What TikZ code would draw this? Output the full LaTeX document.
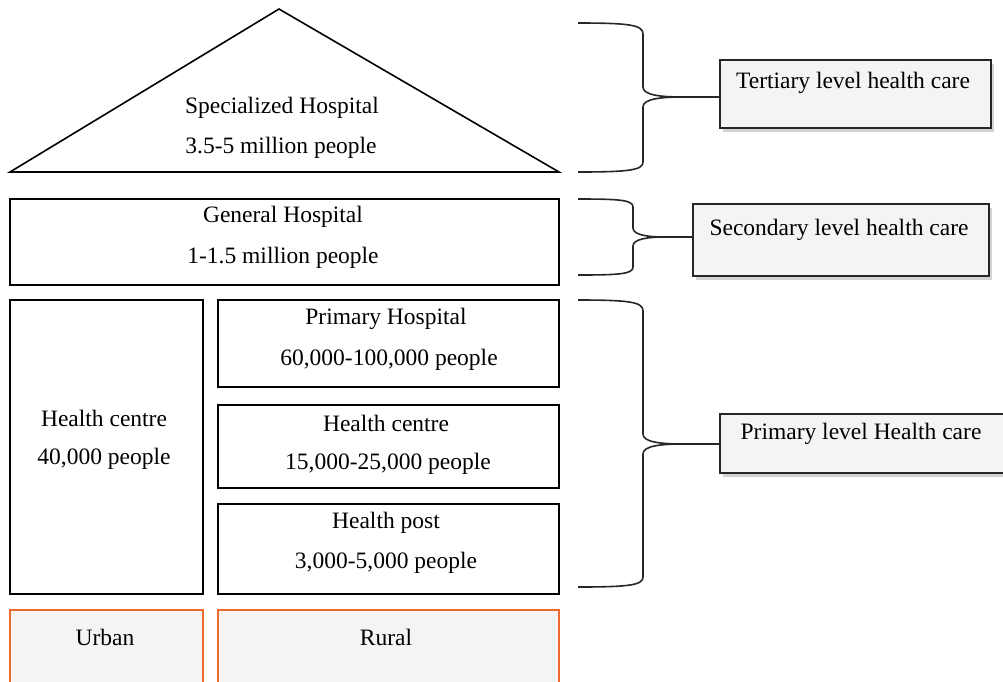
\documentclass[tikz,border=0pt]{standalone}
\usepackage{fontspec}
\setmainfont{Liberation Serif}
\usetikzlibrary{shadows}
\definecolor{boxfill}{HTML}{F4F4F4}
\definecolor{orangeline}{HTML}{EE6A2E}
\tikzset{
  outl/.style={draw=black, line width=1.6pt, fill=white},
  lvlbox/.style={draw=black!85, line width=1.6pt, fill=boxfill, rectangle, anchor=north west,
     drop shadow={opacity=0.35, shadow xshift=3pt, shadow yshift=-4pt}},
  areabox/.style={draw=orangeline, line width=1.6pt, fill=boxfill},
  txt/.style={font=\fontsize{23.5}{28}\selectfont, inner sep=0pt},
  bracket/.style={draw=black!85, line width=1.6pt},
}
\begin{document}
\begin{tikzpicture}[x=1pt, y=-1pt]
\useasboundingbox (0,0) rectangle (1003,681);
% pyramid
\draw[outl] (279,9) -- (559,172) -- (10,172) -- cycle;
\node[txt] (sh) at (282,108) {Specialized Hospital};
\node[txt] (shp) at (281,148) {3.5-5 million people};
% general hospital
\draw[outl] (10,199) rectangle (559,285);
\node[txt] (gh) at (283,217) {General Hospital};
\node[txt] (ghp) at (283,258) {1-1.5 million people};
% urban health centre
\draw[outl] (10,300) rectangle (203,594);
\node[txt] (hcu) at (104,418) {Health centre};
\node[txt] (hcup) at (104,459) {40,000 people};
% rural boxes
\draw[outl] (218,300) rectangle (559,387);
\node[txt] (ph) at (386,319) {Primary Hospital};
\node[txt] (php) at (389,360) {60,000-100,000 people};
\draw[outl] (218,405) rectangle (559,488);
\node[txt] (hcr) at (386,423) {Health centre};
\node[txt] (hcrp) at (388,464) {15,000-25,000 people};
\draw[outl] (218,504) rectangle (559,594);
\node[txt] (hp) at (386,523) {Health post};
\node[txt] (hpp) at (386,563) {3,000-5,000 people};
% urban / rural
\draw[areabox] (10,610) rectangle (203,700);
\node[txt] (urban) at (105,637) {Urban};
\draw[areabox] (218,610) rectangle (559,700);
\node[txt] (rural) at (386,637) {Rural};
% level boxes
\node[lvlbox, minimum width=271pt, minimum height=68pt] (tert) at (719,59) {};
\node[txt] at (853,83) {Tertiary level health care};
\node[lvlbox, minimum width=296pt, minimum height=72pt] (sec) at (692,203) {};
\node[txt] at (839,230) {Secondary level health care};
\node[lvlbox, minimum width=300pt, minimum height=59pt] (prim) at (719,413) {};
\node[txt] at (861,434) {Primary level Health care};
% braces
\coordinate (t1) at (683,97);
\draw[bracket] (578,23) .. controls (630,23) and (643,25) .. (643,34) -- (643,87)
  .. controls (643,95) and (660,97) .. (t1)
  .. controls (660,97) and (643,99) .. (643,107) -- (643,162)
  .. controls (643,170) and (630,172) .. (578,172);
\draw[bracket] (t1) -- (tert.west |- t1);
\coordinate (t2) at (665,237);
\draw[bracket] (578,199) .. controls (620,199) and (633,200) .. (633,207) -- (633,228)
  .. controls (633,235) and (648,237) .. (t2)
  .. controls (648,237) and (633,239) .. (633,246) -- (633,267)
  .. controls (633,274) and (620,275) .. (578,275);
\draw[bracket] (t2) -- (sec.west |- t2);
\coordinate (t3) at (683,444);
\draw[bracket] (578,300) .. controls (630,300) and (643,302) .. (643,311) -- (643,434)
  .. controls (643,442) and (660,444) .. (t3)
  .. controls (660,444) and (643,446) .. (643,454) -- (643,577)
  .. controls (643,585) and (630,587) .. (578,587);
\draw[bracket] (t3) -- (prim.west |- t3);
\end{tikzpicture}
\end{document}
